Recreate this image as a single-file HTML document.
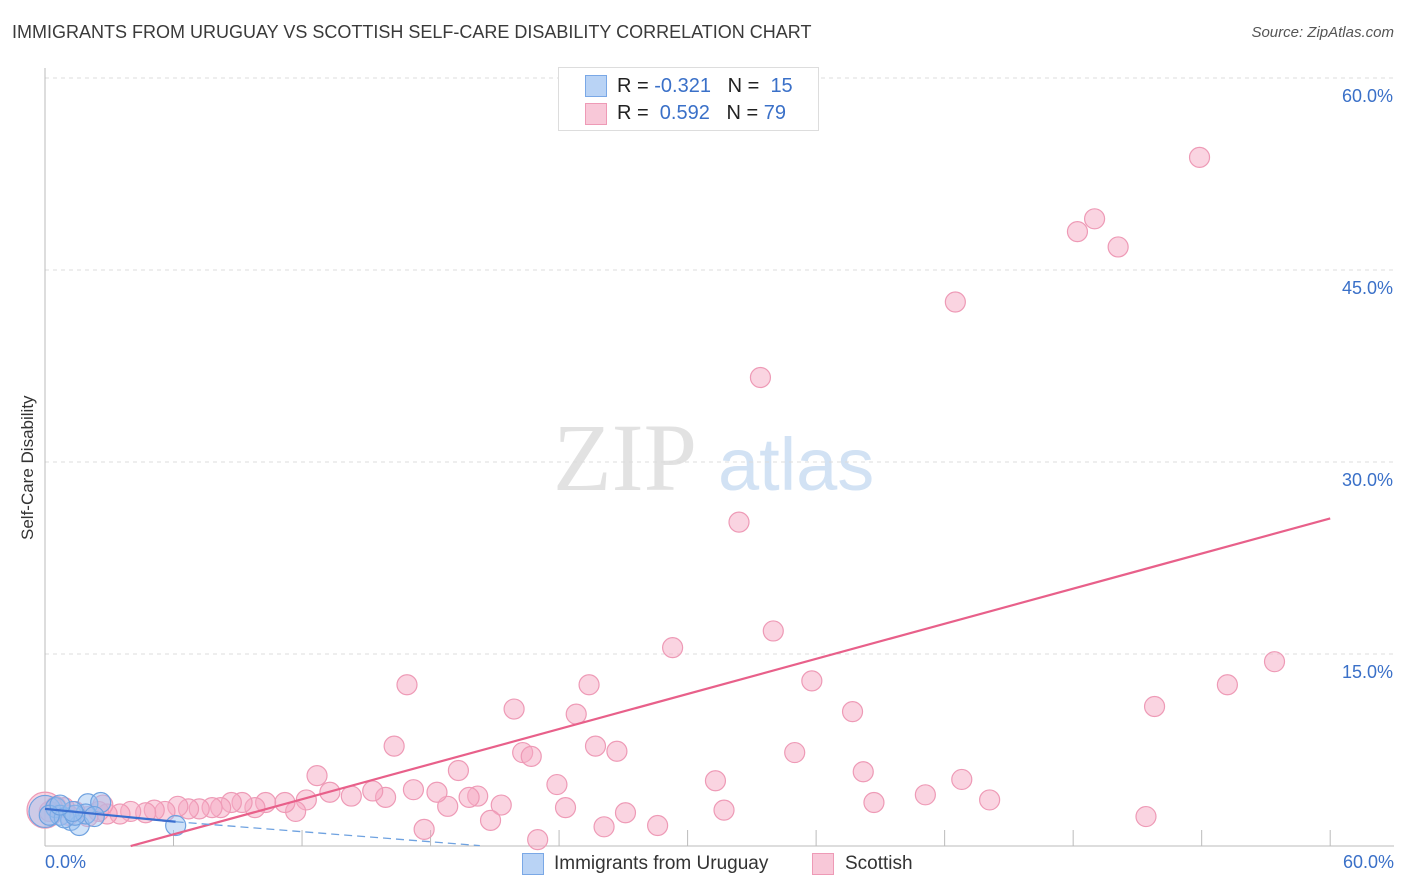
<!DOCTYPE html>
<html><head><meta charset="utf-8">
<style>
body{margin:0;background:#fff;font-family:"Liberation Sans",sans-serif;}
#wrap{position:relative;width:1406px;height:892px;overflow:hidden;}
.t{position:absolute;white-space:nowrap;}
</style></head>
<body>
<div id="wrap">
<div class="t" style="left:12px;top:22px;font-size:18px;color:#3a3a3a;">IMMIGRANTS FROM URUGUAY VS SCOTTISH SELF-CARE DISABILITY CORRELATION CHART</div>
<div class="t" style="right:12px;top:24px;font-size:15px;color:#555;font-style:italic;">Source: ZipAtlas.com</div>
<svg id="chart" width="1406" height="892" style="position:absolute;left:0;top:0"></svg>
</div>
<script>
const xTicks=[0,6,12,18,24,30,36,42,48,54,60];
const yTicks=[15,30,45,60];
const yTickLabels=["15.0%","30.0%","45.0%","60.0%"];
const blueX=[0.0,0.5,0.7,1.2,1.6,2.0,2.6,1.9,0.9,1.4,2.3,1.3,6.1,0.2,0.7];
const blueY=[2.7,3.0,2.4,2.0,1.6,3.3,3.4,2.5,2.2,2.4,2.3,2.7,1.6,2.4,3.2];
const pinkX=[53.9,48.2,49.0,50.1,42.5,33.4,32.4,29.3,34.0,35.8,37.7,57.4,55.2,51.8,51.4,16.9,21.9,25.4,24.8,16.3,22.3,22.7,25.7,26.7,35.0,12.7,19.3,23.9,31.3,38.2,42.8,41.1,44.1,38.7,31.7,27.1,24.3,21.3,20.2,18.8,20.8,17.7,26.1,28.6,23.0,17.2,18.3,19.8,15.9,15.3,14.3,13.3,12.2,11.7,11.2,10.3,9.8,9.2,8.7,8.2,7.8,7.2,6.7,6.2,5.6,5.1,4.7,4.0,3.5,2.9,2.5,2.0,1.4,0.9,0.5,0.2,2.7,1.1,0.0];
const pinkY=[53.8,48.0,49.0,46.8,42.5,36.6,25.3,15.5,16.8,12.9,10.5,14.4,12.6,10.9,2.3,12.6,10.7,12.6,10.3,7.8,7.3,7.0,7.8,7.4,7.3,5.5,5.9,4.8,5.1,5.8,5.2,4.0,3.6,3.4,2.8,2.6,3.0,3.2,3.9,3.1,2.0,1.3,1.5,1.6,0.5,4.4,4.2,3.8,3.8,4.3,3.9,4.2,3.6,2.7,3.4,3.4,3.0,3.4,3.4,3.0,3.0,2.9,2.9,3.1,2.7,2.8,2.6,2.7,2.5,2.5,2.7,2.3,2.7,3.0,3.1,2.7,3.2,2.4,2.8];
const blueTrend=[2.9,-0.165]; // intercept, slope
const pinkTrend=[-1.83,0.457];
const X=v=>45+v*21.42, Y=v=>846-v*12.8;
const svg=document.getElementById('chart');const NS='http://www.w3.org/2000/svg';
function mk(t,a,p){const e=document.createElementNS(NS,t);for(const k in a)e.setAttribute(k,a[k]);(p||svg).appendChild(e);return e;}
let w=mk('text',{x:553,y:490,'font-size':96,fill:'#e2e2e2','font-family':'Liberation Serif, serif'});w.textContent='ZIP';


let w2=mk('text',{x:718,y:490,'font-size':74,fill:'#d2e2f4','font-family':'Liberation Sans, sans-serif'});w2.textContent='atlas';


yTicks.forEach((v,i)=>{const g=mk('line',{x1:45,x2:1394,y1:Y(v),y2:Y(v),stroke:'#dcdcdc','stroke-dasharray':'4,4'});


const t=mk('text',{x:1393,y:Y(v)+24,'text-anchor':'end','font-size':18,fill:'#3a70c8'});t.textContent=yTickLabels[i];

});
let ax=mk('line',{x1:45,x2:1394,y1:846,y2:846,stroke:'#bbb'});


let ay=mk('line',{x1:45,x2:45,y1:68,y2:846,stroke:'#bbb'});


xTicks.forEach(v=>{if(v===0)return;const l=mk('line',{x1:X(v),x2:X(v),y1:830,y2:846,stroke:'#bbb'});

});
pinkX.forEach((x,i)=>{const r=(i===pinkX.length-1)?18:10;const c=mk('circle',{cx:X(x),cy:Y(pinkY[i]),r:r,fill:'rgba(246,170,195,0.5)',stroke:'#ee9ab6','stroke-width':1.2});

});
blueX.forEach((x,i)=>{const r=i===0?16:10;const c=mk('circle',{cx:X(x),cy:Y(blueY[i]),r:r,fill:'rgba(150,190,240,0.45)',stroke:'#6fa2e0','stroke-width':1.2});

});
let pt=mk('line',{x1:X(4),y1:Y(pinkTrend[0]+pinkTrend[1]*4),x2:X(60),y2:Y(pinkTrend[0]+pinkTrend[1]*60),stroke:'#e8608a','stroke-width':2.2});


let bt=mk('line',{x1:X(0),y1:Y(blueTrend[0]),x2:X(6.1),y2:Y(blueTrend[0]+blueTrend[1]*6.1),stroke:'#3b6fd0','stroke-width':2.2});


let bd=mk('line',{x1:X(6.1),y1:Y(blueTrend[0]+blueTrend[1]*6.1),x2:X(20.3),y2:Y(blueTrend[0]+blueTrend[1]*17.4),stroke:'#6fa2e0','stroke-width':1.3,'stroke-dasharray':'8,5'});


</script>
<div class="t" style="left:45px;top:852px;font-size:18px;color:#3a70c8;">0.0%</div>
<div class="t" style="right:12px;top:852px;font-size:18px;color:#3a70c8;">60.0%</div>
<div class="t" style="left:18px;top:540px;font-size:17px;color:#333;transform:rotate(-90deg);transform-origin:0 0;">Self-Care Disability</div>
<div style="position:absolute;left:558px;top:67px;width:259px;height:62px;border:1px solid #ddd;background:#fff;font-size:20px;color:#222;">
 <div style="position:absolute;left:26px;top:7px;width:20px;height:20px;background:#b9d3f5;border:1px solid #7aa8e6;"></div>
 <div class="t" style="left:58px;top:7px;">R = <span style="color:#3a70c8">-0.321</span>&nbsp;&nbsp;&nbsp;N = &nbsp;<span style="color:#3a70c8">15</span></div>
 <div style="position:absolute;left:26px;top:35px;width:20px;height:20px;background:#f8c8d8;border:1px solid #ee9ab6;"></div>
 <div class="t" style="left:58px;top:34px;">R = &nbsp;<span style="color:#3a70c8">0.592</span>&nbsp;&nbsp;&nbsp;N = <span style="color:#3a70c8">79</span></div>
</div>
<div style="position:absolute;left:522px;top:853px;width:20px;height:20px;background:#b9d3f5;border:1px solid #7aa8e6;"></div>
<div class="t" style="left:554px;top:853px;font-size:19px;color:#333;">Immigrants from Uruguay</div>
<div style="position:absolute;left:812px;top:853px;width:20px;height:20px;background:#f8c8d8;border:1px solid #ee9ab6;"></div>
<div class="t" style="left:845px;top:853px;font-size:19px;color:#333;">Scottish</div>
</body></html>
